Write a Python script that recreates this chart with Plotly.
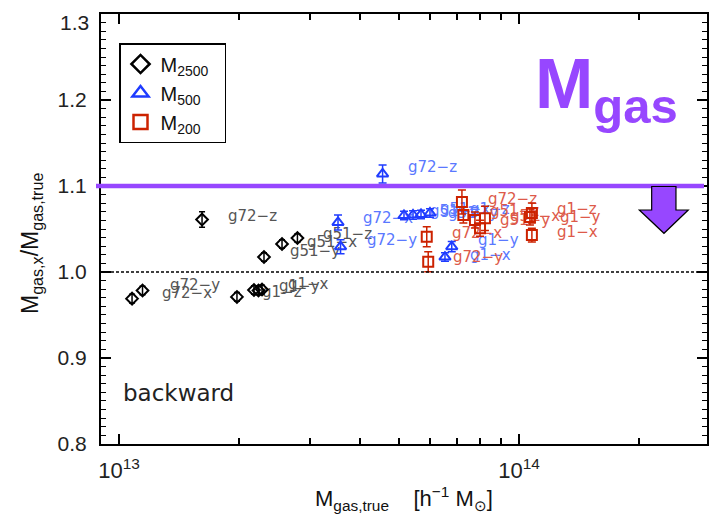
import plotly.graph_objects as go

# ---------------- data ----------------
m2500_x = [1.078e13, 1.145e13, 1.613e13, 1.972e13, 2.175e13, 2.232e13, 2.278e13, 2.304e13, 2.556e13, 2.793e13]
m2500_y = [0.969, 0.9785, 1.061, 0.971, 0.979, 0.9785, 0.9797, 1.0174, 1.0326, 1.0395]
m2500_err = [0.005, 0.005, 0.009, 0.005, 0.005, 0.005, 0.005, 0.005, 0.005, 0.005]
m2500_lab = ["g72−x", "g72−y", "g72−z", "g1−z", "g1−y", "g1−x", "", "g51−y", "g51−x", "g51−z"]
m2500_lab_x = [1.281e13, 1.341e13, 1.873e13, 2.278e13, 2.512e13, 2.645e13, None, 2.676e13, 2.951e13, 3.236e13]
m2500_lab_y = [0.9744, 0.9837, 1.064, 0.9756, 0.982, 0.9849, None, 1.0233, 1.0337, 1.043]

m500_x = [4.56e13, 3.528e13, 3.58e13, 5.158e13, 5.433e13, 5.689e13, 5.99e13, 6.79e13, 6.53e13]
m500_y = [1.114, 1.0576, 1.0294, 1.0657, 1.0663, 1.0669, 1.0686, 1.0294, 1.0174]
m500_err = [0.0105, 0.0087, 0.0081, 0.005, 0.005, 0.005, 0.005, 0.006, 0.005]
m500_lab = ["g72−z", "g72−x", "g72−y", "g51−z", "g51−x", "g51−y", "g1−z", "g1−y", "g1−x"]
m500_lab_x = [5.278e13, 4.074e13, 4.169e13, 5.992e13, 6.346e13, 6.645e13, 7.543e13, 7.898e13, 7.543e13]
m500_lab_y = [1.121, 1.0616, 1.036, 1.0698, 1.0721, 1.0674, 1.0721, 1.036, 1.0186]

m200_x = [5.88e13, 5.93e13, 7.2e13, 7.26e13, 7.76e13, 8.22e13, 7.99e13, 1.077e14, 1.065e14, 1.077e14]
m200_y = [1.041, 1.012, 1.0814, 1.0663, 1.0605, 1.0624, 1.0508, 1.0686, 1.064, 1.043]
m200_err = [0.0116, 0.0116, 0.014, 0.0093, 0.0093, 0.014, 0.0093, 0.0116, 0.0093, 0.008]
m200_lab = ["g72−x", "g72−y", "g72−z", "g51−z", "g51−y", "g51−x", "", "g1−z", "g1−y", "g1−x"]
m200_lab_x = [6.800e13, 6.839e13, 8.366e13, 8.463e13, 8.964e13, 9.495e13, None, 1.245e14, 1.266e14, 1.245e14]
m200_lab_y = [1.0442, 1.0163, 1.0837, 1.0698, 1.0593, 1.064, None, 1.0721, 1.0628, 1.0453]

x_major_ticks = [1e13, 1e14]
x_major_text = ["10<sup>13</sup>", "10<sup>14</sup>"]
x_minor_ticks = [k * 1e13 for k in range(2, 10)] + [k * 1e14 for k in range(2, 4)]
y_ticks = [0.8, 0.9, 1.0, 1.1, 1.2, 1.3]
y_tick_text = ["0.8", "0.9", "1.0", "1.1", "1.2", ""]   # top label drawn separately, nudged inside
y_top_label = "1.3"
threshold = 1.1
unity = 1.0

BLACK = "#000000"
BLUE = "#1f3cff"
RED = "#cc2200"
PURPLE = "#9747ff"

series = [
    ("M<sub>2500</sub>", m2500_x, m2500_y, m2500_err, m2500_lab, m2500_lab_x, m2500_lab_y,
     "diamond-open", BLACK, "#555555", 9, 3),
    ("M<sub>500</sub>", m500_x, m500_y, m500_err, m500_lab, m500_lab_x, m500_lab_y,
     "triangle-up-open", BLUE, "#5a78ff", 10, 4),
    ("M<sub>200</sub>", m200_x, m200_y, m200_err, m200_lab, m200_lab_x, m200_lab_y,
     "square-open", RED, "#dd5a4a", 10, 4),
]

fig = go.Figure()

# labels first (drawn under markers)
for name, x, y, e, lab, lx, ly, sym, col, lcol, sz, capw in series:
    keep = [i for i, t in enumerate(lab) if t]
    fig.add_trace(go.Scatter(
        x=[lx[i] for i in keep], y=[ly[i] for i in keep], text=[lab[i] for i in keep],
        mode="text", textposition="middle right",
        textfont=dict(family="DejaVu Sans", size=15, color=lcol),
        showlegend=False, hoverinfo="skip"))

for name, x, y, e, lab, lx, ly, sym, col, lcol, sz, capw in series:
    fig.add_trace(go.Scatter(
        x=x, y=y, mode="markers", name=name, showlegend=False,
        marker=dict(symbol=sym, size=sz, color=col, line=dict(width=2, color=col)),
        error_y=dict(type="data", array=e, visible=True, color=col, thickness=1.5, width=capw)))

# legend-only entries with the larger symbols of the reference legend
for name, x, y, e, lab, lx, ly, sym, col, lcol, sz, capw in series:
    fig.add_trace(go.Scatter(
        x=[None], y=[None], mode="markers", name=name + "\u00a0\u00a0",
        marker=dict(symbol=sym, size=14, color=col, line=dict(width=2.5, color=col))))

# page-pixel geometry of the plot area (figure sits 8 px inside the page)
OFF = 8
L, R, T, B = 101, 707, 14, 444
W, H = R - L, B - T
def px(xp):
    return (xp - L) / W
def py(yp):
    return (B - yp) / H

shapes = [
    dict(type="line", xref="paper", yref="y", x0=0, x1=1, y0=unity, y1=unity,
         line=dict(color="black", width=1.5, dash="3px,2px")),
    dict(type="line", xref="paper", yref="y", x0=px(96), x1=px(704), y0=threshold, y1=threshold,
         line=dict(color=PURPLE, width=4.5)),
]
arrow = [(651.7, 186.5), (676, 186.5), (676, 210), (688.3, 210), (664, 233.3),
         (639.3, 210), (651.7, 210)]
path = "M " + " L ".join(f"{px(a):.4f},{py(b):.4f}" for a, b in arrow) + " Z"
shapes.append(dict(type="path", xref="paper", yref="paper", path=path,
                   fillcolor=PURPLE, line=dict(color="black", width=1.2)))

annotations = [
    dict(text=y_top_label, xref="paper", yref="paper", x=px(91), y=py(22),
         xanchor="right", yanchor="middle", showarrow=False,
         font=dict(family="Liberation Sans, Arial", size=21, color="#222222")),
    dict(text="backward", xref="paper", yref="paper", x=px(121), y=py(393),
         xanchor="left", yanchor="middle", showarrow=False,
         font=dict(family="DejaVu Sans", size=23, color="#222222")),
    dict(text="<b>M<sub>gas</sub></b>", xref="paper", yref="paper", x=px(606), y=py(89),
         xanchor="center", yanchor="middle", showarrow=False,
         font=dict(family="Liberation Sans, Arial", size=70, color=PURPLE)),
    dict(text="M<sub>gas,true</sub>\u00a0\u00a0\u00a0\u00a0[h<sup>−1</sup> M<sub>⊙</sub>]",
         xref="paper", yref="paper", x=px(404), y=py(498), xanchor="center", yanchor="middle",
         showarrow=False, font=dict(family="Liberation Sans, Arial", size=22, color="#111111")),
    dict(text="M<sub>gas,x</sub>/M<sub>gas,true</sub>", textangle=-90,
         xref="paper", yref="paper", x=px(31), y=py(244), xanchor="center", yanchor="middle",
         showarrow=False, font=dict(family="Liberation Sans, Arial", size=23, color="#111111")),
]

axis_common = dict(showline=True, linecolor="black", linewidth=2, mirror="allticks",
                   ticks="inside", tickcolor="black", tickwidth=1.5, ticklen=10,
                   showgrid=False, zeroline=False)

fig.update_layout(
    width=720 - OFF, height=525 - OFF,
    margin=dict(l=L - OFF, r=720 - R, t=T - OFF, b=525 - B, autoexpand=False),
    paper_bgcolor="white", plot_bgcolor="white",
    font=dict(family="Liberation Sans, Arial", color="#111111"),
    xaxis=dict(type="log", range=[12.955, 14.47], tickmode="array",
               tickvals=x_major_ticks, ticktext=x_major_text,
               tickfont=dict(size=22, color="#222222"), ticklabelstandoff=6,
               minor=dict(tickvals=x_minor_ticks, ticks="inside", ticklen=6,
                          tickwidth=1.5, tickcolor="black"),
               **axis_common),
    yaxis=dict(range=[0.7999, 1.3001], tickmode="array", tickvals=y_ticks, ticktext=y_tick_text,
               tickfont=dict(size=21, color="#222222"), ticklabelstandoff=8,
               minor=dict(tickmode="linear", tick0=0.8, dtick=0.01, ticks="inside", ticklen=5,
                          tickwidth=1.2, tickcolor="black"),
               **axis_common),
    legend=dict(x=px(119), y=py(43), xanchor="left", yanchor="top",
                bordercolor="black", borderwidth=1.5, bgcolor="white",
                font=dict(size=20, color="#111111"), itemsizing="trace",
                tracegroupgap=0),
    shapes=shapes, annotations=annotations,
)

fig.write_html("out.html")
